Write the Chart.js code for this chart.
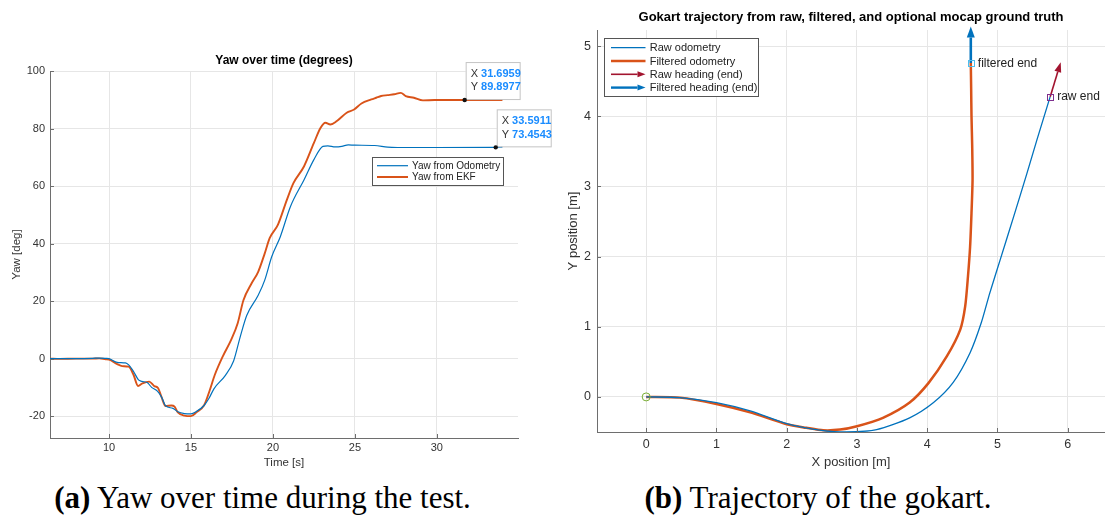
<!DOCTYPE html>
<html>
<head>
<meta charset="utf-8">
<title>Yaw and gokart trajectory</title>
<script src="https://cdn.jsdelivr.net/npm/chart.js@4.4.1/dist/chart.umd.min.js"></script>
<style>
  body { margin: 0; background: #fff; width: 1105px; height: 518px; overflow: hidden; position: relative; }
  .box { position: absolute; top: 0; height: 475px; }
  #yawBox { left: 0; width: 560px; }
  #trajBox { left: 560px; width: 545px; }
  .cap { position: absolute; top: 480px; font-family: "Liberation Serif", serif; font-size: 31px; color: #000; text-align: center; white-space: nowrap; }
</style>
</head>
<body>
<div class="box" id="yawBox"><canvas id="yawChart"></canvas></div>
<div class="box" id="trajBox"><canvas id="trajChart"></canvas></div>
<div class="cap" style="left:0;width:525px"><b>(a)</b> Yaw over time during the test.</div>
<div class="cap" style="left:560px;width:516px"><b>(b)</b> Trajectory of the gokart.</div>
<script>
// ---- (a) yaw over time ----
const odomTime = [6.4, 7, 8, 9, 9.4, 9.8, 10, 10.5, 11, 11.2, 11.5, 11.8, 12, 12.35, 12.6, 12.95,
  13.2, 13.45, 13.9, 14.2, 14.6, 15, 15.3, 15.8, 16.1, 16.4, 17.1, 17.6, 18.0, 18.4, 19.1, 19.5,
  19.93, 20.45, 21.07, 21.9, 22.5, 23.05, 23.35, 23.8, 24.2, 24.6, 25, 26.2, 27, 27.6, 30, 33.59, 34]
const odomYaw = [0, 0, 0, 0.1, 0.2, 0.1, 0, -1.3, -1.5, -2.2, -4.5, -7.4, -7.9, -8.4, -10, -11.3,
  -13.3, -16.4, -17.3, -18.5, -19.1, -19.2, -18.5, -16.3, -13.8, -10.5, -5.8, -0.8, 7.5, 15, 22, 27.3,
  35.5, 42.4, 52.9, 62.2, 69.2, 73.8, 74, 73.6, 73.8, 74.3, 74.2, 74.1, 73.5, 73.4, 73.4, 73.45, 73.5]

const ekfTime = [6.4, 7, 8, 9, 9.4, 9.8, 10, 10.5, 10.8, 11.2, 11.5, 11.77, 12.04, 12.45, 12.75, 13,
  13.2, 13.45, 13.8, 14, 14.2, 14.6, 15, 15.35, 15.8, 16.15, 16.45, 16.95, 17.45, 17.85, 18.2, 18.7,
  19.1, 19.5, 19.8, 20.3, 20.85, 21.25, 21.9, 22.5, 22.9, 23.2, 23.5, 23.9, 24.5, 24.95, 25.4, 26.0,
  26.3, 26.6, 27.0, 27.4, 27.8, 28.1, 28.6, 29.15, 29.86, 31.7, 34]
const ekfYaw = [0, -0.1, 0, 0, 0.1, -0.2, -0.3, -1.9, -2.6, -2.8, -5.7, -9.5, -8.6, -8.0, -9.5, -10.3,
  -13.3, -16.5, -16.3, -16.7, -18.7, -19.8, -20, -18.6, -16.2, -10.9, -5.7, 0.9, 6.5, 12.3, 20.3, 26.2,
  30.2, 36.6, 41.9, 46.5, 55.2, 61, 66.9, 75, 80.2, 82, 81.4, 82.6, 85.5, 86.6, 88.7, 90.1,
  90.7, 91.3, 91.6, 91.9, 92.4, 91.3, 90.7, 89.8, 89.9, 89.9, 89.9]

const ekfTip = [31.6959, 89.8977]
const odomTip = [33.5911, 73.4543]

// ---- (b) trajectory ----
const rawX = [0, 0.48, 1.0, 1.48, 2.0, 2.52, 2.85, 3.28, 3.75, 4.09, 4.37, 4.61, 4.77, 4.89, 5.04,
  5.23, 5.42, 5.56, 5.75]
const rawY = [0, -0.01, -0.082, -0.2, -0.38, -0.48, -0.5, -0.466, -0.298, -0.08, 0.207, 0.63, 1.06,
  1.48, 1.96, 2.57, 3.19, 3.66, 4.28]
const filtX = [0, 0.48, 1.0, 1.48, 2.0, 2.28, 2.52, 2.76, 3.0, 3.37, 3.75, 4.02, 4.28, 4.47, 4.54,
  4.58, 4.61, 4.63, 4.645, 4.64, 4.63, 4.625, 4.62]
const filtY = [0, -0.01, -0.1, -0.22, -0.39, -0.44, -0.476, -0.466, -0.418, -0.298, -0.08, 0.2, 0.58,
  0.96, 1.29, 1.72, 2.14, 2.62, 3.09, 3.57, 4.0, 4.4, 4.76]
const startPt = [0, 0]
const rawEnd = [5.75, 4.28]
const rawHeadingTip = [5.90, 4.77]
const filtEnd = [4.62, 4.76]
const filtHeadingTip = [4.62, 5.28]

const BLUE = '#0072BD'
const ORANGE = '#D95319'
const DARKRED = '#A2142F'
const TEXT = '#333333'
const GRID = '#e6e6e6'
const AXIS = '#6e6e6e'
const FONT = '"Liberation Sans", Arial, sans-serif'

function pts(xs, ys) {
  return xs.map((x, i) => ({x: x, y: ys[i]}))
}

function tickMarks(chart) {
  const ctx = chart.ctx
  const {x, y} = chart.scales
  const a = chart.chartArea
  ctx.save()
  ctx.strokeStyle = AXIS
  ctx.lineWidth = 1
  x.ticks.forEach(t => {
    const px = Math.round(x.getPixelForValue(t.value)) + 0.5
    ctx.beginPath(); ctx.moveTo(px, a.bottom); ctx.lineTo(px, a.bottom - 4); ctx.stroke()
  })
  y.ticks.forEach(t => {
    const py = Math.round(y.getPixelForValue(t.value)) + 0.5
    ctx.beginPath(); ctx.moveTo(a.left, py); ctx.lineTo(a.left + 4, py); ctx.stroke()
  })
  ctx.restore()
}

function legendBox(ctx, x, y, w, h) {
  ctx.fillStyle = '#fff'
  ctx.fillRect(x, y, w, h)
  ctx.strokeStyle = '#555'
  ctx.lineWidth = 1
  ctx.strokeRect(x + 0.5, y + 0.5, w, h)
}

function arrow(ctx, x0, y0, x1, y1, color, width, headLen, headW) {
  const ang = Math.atan2(y1 - y0, x1 - x0)
  const bx = x1 - headLen * Math.cos(ang)
  const by = y1 - headLen * Math.sin(ang)
  ctx.strokeStyle = color
  ctx.fillStyle = color
  ctx.lineWidth = width
  ctx.beginPath(); ctx.moveTo(x0, y0); ctx.lineTo(bx, by); ctx.stroke()
  ctx.beginPath()
  ctx.moveTo(x1, y1)
  ctx.lineTo(bx + headW / 2 * Math.sin(ang), by - headW / 2 * Math.cos(ang))
  ctx.lineTo(bx - headW / 2 * Math.sin(ang), by + headW / 2 * Math.cos(ang))
  ctx.closePath()
  ctx.fill()
}

function dataTip(ctx, chart, tip) {
  const px = chart.scales.x.getPixelForValue(tip[0])
  const py = chart.scales.y.getPixelForValue(tip[1])
  const bx = px + 1, by = py - 38, bw = 54, bh = 37
  ctx.fillStyle = 'rgba(255,255,255,0.95)'
  ctx.fillRect(bx, by, bw, bh)
  ctx.strokeStyle = '#c4c4c4'
  ctx.lineWidth = 1
  ctx.strokeRect(bx + 0.5, by + 0.5, bw, bh)
  ctx.textBaseline = 'middle'
  ctx.textAlign = 'left'
  const rows = [['X ', tip[0].toFixed(4)], ['Y ', tip[1].toFixed(4)]]
  rows.forEach((r, i) => {
    const ty = by + 12 + i * 13.3
    ctx.font = '11px ' + FONT
    ctx.fillStyle = '#333'
    ctx.fillText(r[0], bx + 5, ty)
    const w = ctx.measureText(r[0]).width
    ctx.font = 'bold 11px ' + FONT
    ctx.fillStyle = '#1a8cff'
    ctx.fillText(r[1], bx + 5 + w, ty)
  })
  ctx.fillStyle = '#111'
  ctx.beginPath(); ctx.arc(px, py, 2.2, 0, Math.PI * 2); ctx.fill()
}

const yawExtras = {
  id: 'yawExtras',
  afterDraw(chart) {
    const ctx = chart.ctx
    const a = chart.chartArea
    tickMarks(chart)
    ctx.save()
    ctx.fillStyle = '#000'
    ctx.font = 'bold 12px ' + FONT
    ctx.textAlign = 'center'
    ctx.textBaseline = 'middle'
    ctx.fillText('Yaw over time (degrees)', (a.left + a.right) / 2, 61)

    // legend
    legendBox(ctx, 372, 157, 131, 28)
    ctx.font = '10px ' + FONT
    ctx.textAlign = 'left'
    const items = [['Yaw from Odometry', BLUE, 1.2], ['Yaw from EKF', ORANGE, 2]]
    items.forEach((it, i) => {
      const ly = 165.7 + i * 11.3
      ctx.strokeStyle = it[1]; ctx.lineWidth = it[2]
      ctx.beginPath(); ctx.moveTo(377, ly); ctx.lineTo(408, ly); ctx.stroke()
      ctx.fillStyle = '#222'
      ctx.fillText(it[0], 412, ly + 0.5)
    })

    dataTip(ctx, chart, ekfTip)
    dataTip(ctx, chart, odomTip)
    ctx.restore()
  }
}

const trajExtras = {
  id: 'trajExtras',
  afterDraw(chart) {
    const ctx = chart.ctx
    const a = chart.chartArea
    const sx = chart.scales.x, sy = chart.scales.y
    tickMarks(chart)
    ctx.save()
    ctx.fillStyle = '#000'
    ctx.font = 'bold 13px ' + FONT
    ctx.textAlign = 'center'
    ctx.textBaseline = 'middle'
    ctx.fillText('Gokart trajectory from raw, filtered, and optional mocap ground truth', (a.left + a.right) / 2, 17.5)

    // start marker
    ctx.strokeStyle = '#77AC30'
    ctx.lineWidth = 1
    ctx.beginPath()
    ctx.arc(sx.getPixelForValue(startPt[0]), sy.getPixelForValue(startPt[1]), 4, 0, Math.PI * 2)
    ctx.stroke()

    // heading arrows
    arrow(ctx, sx.getPixelForValue(rawEnd[0]), sy.getPixelForValue(rawEnd[1]),
      sx.getPixelForValue(rawHeadingTip[0]), sy.getPixelForValue(rawHeadingTip[1]), DARKRED, 1.6, 10, 7)
    arrow(ctx, sx.getPixelForValue(filtEnd[0]), sy.getPixelForValue(filtEnd[1]),
      sx.getPixelForValue(filtHeadingTip[0]), sy.getPixelForValue(filtHeadingTip[1]), BLUE, 2.6, 11, 8)

    // end markers and labels
    const ends = [[filtEnd, '#4DBEEE', 'filtered end'], [rawEnd, '#7E2F8E', 'raw end']]
    ends.forEach(e => {
      const px = sx.getPixelForValue(e[0][0]), py = sy.getPixelForValue(e[0][1])
      ctx.strokeStyle = e[1]; ctx.lineWidth = 1
      ctx.strokeRect(Math.round(px) - 2.5, Math.round(py) - 2.5, 6, 6)
      ctx.fillStyle = '#222'
      ctx.font = '12px ' + FONT
      ctx.textAlign = 'left'
      ctx.fillText(e[2], px + 7, py + 0.5)
    })

    // legend
    legendBox(ctx, 44, 38, 154, 58)
    ctx.font = '11px ' + FONT
    ctx.textAlign = 'left'
    const items = [['Raw odometry', BLUE, 1.2, false], ['Filtered odometry', ORANGE, 2.4, false],
      ['Raw heading (end)', DARKRED, 1.6, true], ['Filtered heading (end)', BLUE, 2.4, true]]
    items.forEach((it, i) => {
      const ly = 47.7 + i * 13.3
      if (it[3]) {
        arrow(ctx, 51, ly, 85.5, ly, it[1], it[2], 8, 6)
      } else {
        ctx.strokeStyle = it[1]; ctx.lineWidth = it[2]
        ctx.beginPath(); ctx.moveTo(51, ly); ctx.lineTo(85.5, ly); ctx.stroke()
      }
      ctx.fillStyle = '#222'
      ctx.fillText(it[0], 89.7, ly + 0.5)
    })
    ctx.restore()
  }
}

function axisFont(size) {
  return {family: FONT, size: size}
}

new Chart(document.getElementById('yawChart'), {
  type: 'scatter',
  data: {
    datasets: [
      {label: 'Yaw from Odometry', data: pts(odomTime, odomYaw), showLine: true, borderColor: BLUE,
        borderWidth: 1.2, pointRadius: 0, cubicInterpolationMode: 'monotone'},
      {label: 'Yaw from EKF', data: pts(ekfTime, ekfYaw), showLine: true, borderColor: ORANGE,
        borderWidth: 1.9, pointRadius: 0, cubicInterpolationMode: 'monotone'}
    ]
  },
  options: {
    responsive: true,
    maintainAspectRatio: false,
    animation: false,
    layout: {padding: {top: 71, right: 42, bottom: 0, left: 0}},
    plugins: {legend: {display: false}, tooltip: {enabled: false}},
    scales: {
      x: {
        type: 'linear', min: 6.4, max: 34.95,
        afterFit: s => { s.height = 37 },
        ticks: {stepSize: 5, includeBounds: false, padding: 3, color: TEXT, font: axisFont(11)},
        grid: {color: GRID, drawTicks: false},
        border: {color: AXIS},
        title: {display: true, text: 'Time [s]', color: TEXT, font: axisFont(11.5), padding: {top: 0, bottom: 5}}
      },
      y: {
        type: 'linear', min: -27.6, max: 100,
        afterFit: s => { s.width = 50 },
        ticks: {stepSize: 20, includeBounds: false, padding: 5, color: TEXT, font: axisFont(11)},
        grid: {color: GRID, drawTicks: false},
        border: {color: AXIS},
        title: {display: true, text: 'Yaw [deg]', color: TEXT, font: axisFont(11.5), padding: {top: 10, bottom: 0}}
      }
    }
  },
  plugins: [yawExtras]
})

new Chart(document.getElementById('trajChart'), {
  type: 'scatter',
  data: {
    datasets: [
      {label: 'Raw odometry', data: pts(rawX, rawY), showLine: true, borderColor: BLUE,
        borderWidth: 1.3, pointRadius: 0, tension: 0.25},
      {label: 'Filtered odometry', data: pts(filtX, filtY), showLine: true, borderColor: ORANGE,
        borderWidth: 2.5, pointRadius: 0, tension: 0.25}
    ]
  },
  options: {
    responsive: true,
    maintainAspectRatio: false,
    animation: false,
    layout: {padding: {top: 30, right: 0, bottom: 0, left: 0}},
    plugins: {legend: {display: false}, tooltip: {enabled: false}},
    scales: {
      x: {
        type: 'linear', min: -0.7, max: 6.53,
        afterFit: s => { s.height = 43 },
        ticks: {stepSize: 1, includeBounds: false, padding: 5, color: TEXT, font: axisFont(12.5)},
        grid: {color: GRID, drawTicks: false},
        border: {color: AXIS},
        title: {display: true, text: 'X position [m]', color: TEXT, font: axisFont(13), padding: {top: 0, bottom: 5}}
      },
      y: {
        type: 'linear', min: -0.5, max: 5.23,
        afterFit: s => { s.width = 37 },
        ticks: {stepSize: 1, includeBounds: false, padding: 6, color: TEXT, font: axisFont(12.5)},
        grid: {color: GRID, drawTicks: false},
        border: {color: AXIS},
        title: {display: true, text: 'Y position [m]', color: TEXT, font: axisFont(13), padding: {top: 6, bottom: 0}}
      }
    }
  },
  plugins: [trajExtras]
})
</script>
</body>
</html>
